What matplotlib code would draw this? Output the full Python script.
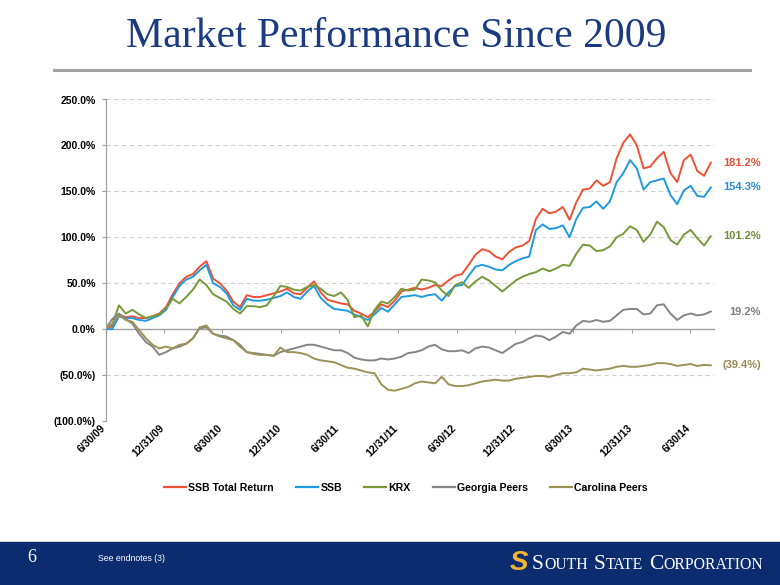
import matplotlib
matplotlib.use("Agg")
import matplotlib.pyplot as plt
import matplotlib.transforms as mtransforms
from matplotlib.lines import Line2D
from matplotlib.patches import Rectangle
import pandas as pd

# ---------------- data ----------------
dates = pd.date_range("2009-06-30", periods=91, freq="21D")

ssb_total_return = [0, 3, 16, 13, 14, 12, 12, 14, 17, 24, 38, 50, 57, 60, 68, 74, 55, 50, 42, 30,
                    24, 37, 35, 35, 37, 39, 41, 44, 39, 38, 45, 52, 40, 32, 30, 28, 27, 20, 17, 13,
                    19, 27, 24, 31, 41, 43, 45, 43, 45, 48, 47, 53, 58, 60, 70, 81, 87, 85, 79, 76,
                    84, 89, 91, 96, 120, 131, 126, 128, 133, 119, 138, 152, 153, 162, 156, 160, 186, 203, 212, 200,
                    175, 177, 186, 193, 170, 160, 184, 190, 172, 167, 181.2]
ssb = [0, 0, 14, 12, 12, 10, 9, 12, 15, 21, 35, 47, 54, 57, 64, 70, 50, 46, 39, 26,
       21, 33, 31, 31, 32, 34, 36, 40, 35, 33, 41, 47, 34, 27, 22, 21, 20, 16, 13, 10,
       16, 23, 19, 27, 35, 36, 37, 35, 37, 38, 31, 40, 47, 48, 58, 68, 70, 68, 65, 64,
       70, 74, 77, 79, 108, 114, 109, 110, 113, 100, 120, 132, 133, 139, 131, 139, 160, 170, 184, 175,
       152, 160, 162, 164, 146, 136, 151, 156, 145, 144, 154.3]
krx = [0, 5, 26, 17, 21, 16, 12, 14, 16, 23, 33, 28, 35, 43, 54, 48, 38, 34, 30, 22,
       17, 25, 25, 24, 26, 36, 47, 46, 43, 42, 46, 48, 44, 38, 36, 40, 32, 13, 15, 3,
       21, 30, 28, 35, 44, 42, 43, 54, 53, 51, 42, 36, 48, 51, 45, 52, 57, 53, 47, 41,
       47, 53, 57, 60, 62, 66, 63, 66, 70, 69, 82, 92, 91, 85, 86, 90, 100, 104, 112, 108,
       95, 103, 117, 111, 97, 92, 103, 108, 99, 91, 101.2]
georgia_peers = [0, 11, 17, 11, 6, -5, -14, -19, -28, -25, -21, -19, -16, -10, 1, 2, -5, -7, -8, -12,
                 -17, -25, -26, -27, -28, -29, -25, -23, -21, -19, -17, -17, -19, -21, -23, -23, -26, -31, -33, -34,
                 -34, -32, -33, -32, -30, -26, -25, -23, -19, -17, -22, -24, -24, -23, -26, -21, -19, -20, -23, -26,
                 -21, -16, -14, -10, -7, -8, -12, -8, -3, -5, 4, 9, 8, 10, 8, 9, 15, 21, 22, 22,
                 16, 17, 26, 27, 17, 10, 15, 17, 15, 16, 19.2]
carolina_peers = [0, 6, 15, 10, 8, -1, -10, -17, -21, -19, -21, -17, -16, -10, 2, 4, -5, -8, -10, -12,
                  -19, -25, -27, -28, -28, -29, -20, -25, -25, -26, -28, -32, -34, -35, -36, -39, -42, -43, -45, -47,
                  -48, -60, -66, -67, -65, -63, -59, -57, -58, -59, -52, -60, -62, -62, -61, -59, -57, -56, -55, -56,
                  -56, -54, -53, -52, -51, -51, -52, -50, -48, -48, -47, -43, -44, -45, -44, -43, -41, -40, -41, -41,
                  -40, -39, -37, -37, -38, -40, -39, -38, -40, -39, -39.4]

series_names = ["SSB Total Return", "SSB", "KRX", "Georgia Peers", "Carolina Peers"]
series_values = [ssb_total_return, ssb, krx, georgia_peers, carolina_peers]
end_labels = ["181.2%", "154.3%", "101.2%", "19.2%", "(39.4%)"]

x_tick_dates = ["2009-06-30", "2009-12-31", "2010-06-30", "2010-12-31", "2011-06-30", "2011-12-31",
                "2012-06-30", "2012-12-31", "2013-06-30", "2013-12-31", "2014-06-30"]
x_tick_labels = ["6/30/09", "12/31/09", "6/30/10", "12/31/10", "6/30/11", "12/31/11",
                 "6/30/12", "12/31/12", "6/30/13", "12/31/13", "6/30/14"]
y_ticks = [-100, -50, 0, 50, 100, 150, 200, 250]
y_tick_labels = ["(100.0%)", "(50.0%)", "0.0%", "50.0%", "100.0%", "150.0%", "200.0%", "250.0%"]

# ---------------- style ----------------
line_colors = ["#EF5134", "#1E9BE0", "#78983A", "#858585", "#9A9257"]
label_colors = ["#E9513A", "#2A8FD6", "#6F8E3B", "#7F7F7F", "#948A54"]
navy = "#0B2D6F"
title_color = "#1A3A82"
sans = ["Liberation Sans", "DejaVu Sans"]
serif = ["Liberation Serif", "DejaVu Serif"]

W, H = 780, 585
fig = plt.figure(figsize=(W / 100, H / 100), dpi=100)
fig.patch.set_facecolor("white")

left, right, top, bottom = 105.5, 714, 99.5, 421
ax = fig.add_axes([left / W, 1 - bottom / H, (right - left) / W, (bottom - top) / H])
ax.set_facecolor("white")

for name, vals, col in zip(series_names, series_values, line_colors):
    ax.plot(dates, vals, color=col, lw=1.4, label=name, solid_joinstyle="round")

ax.set_xlim(pd.Timestamp("2009-06-30"), pd.Timestamp("2014-09-12"))
ax.set_ylim(-100, 250)

# grid lines (dashed) except zero
for yv in y_ticks:
    if yv != 0:
        ax.axhline(yv, color="#D0D0D0", lw=0.8, ls=(0, (4, 3)), zorder=0)

ax.set_yticks(y_ticks)
ax.set_yticklabels(y_tick_labels, fontsize=7.5, fontweight="bold", family=sans)
ax.tick_params(axis="y", direction="out", length=3, color="#A0A0A0", width=0.8, pad=4)

for s in ["top", "right"]:
    ax.spines[s].set_visible(False)
ax.spines["left"].set_color("#A0A0A0")
ax.spines["left"].set_linewidth(0.9)
ax.spines["bottom"].set_position(("data", 0))
ax.spines["bottom"].set_color("#A0A0A0")
ax.spines["bottom"].set_linewidth(1.0)
ax.spines["bottom"].set_zorder(1)

tick_pos = [pd.Timestamp(d) for d in x_tick_dates]
ax.set_xticks(tick_pos)
ax.tick_params(axis="x", direction="out", length=3, color="#A0A0A0", width=0.8, labelbottom=False)

trans = mtransforms.blended_transform_factory(ax.transData, ax.transAxes)
trans_off = mtransforms.offset_copy(trans, fig=fig, x=2, y=-2, units="dots")
for d, lab in zip(tick_pos, x_tick_labels):
    ax.text(d, 0, lab, transform=trans_off, rotation=45, ha="right", va="top",
            fontsize=7.5, fontweight="bold", family=sans, color="black")

# end labels
trans_lbl = mtransforms.blended_transform_factory(fig.transFigure, ax.transData)
for vals, lab, col in zip(series_values, end_labels, label_colors):
    ax.text(761 / W, vals[-1], lab, transform=trans_lbl, ha="right", va="center",
            fontsize=8, fontweight="bold", family=sans, color=col)

# legend
leg = fig.legend(loc="center", bbox_to_anchor=(406 / W, 1 - 488 / H), ncol=5, frameon=False,
                 handlelength=2.1, handletextpad=0.2, columnspacing=2.1,
                 prop={"family": sans, "weight": "bold", "size": 7.6})
for lh in leg.get_lines():
    lh.set_linewidth(1.6)

# title and rule
fig.text(396 / W, 1 - 47 / H, "Market Performance Since 2009", ha="center", va="baseline",
         fontsize=30, family=serif, color=title_color)
fig.add_artist(Line2D([54 / W, 750 / W], [1 - 70 / H, 1 - 70 / H], color="#A3A3A3", lw=2.2))

# footer
fig.add_artist(Rectangle((0, 0), 1, (H - 542) / H, transform=fig.transFigure, color=navy, zorder=0))
fig.text(27 / W, 1 - 562.5 / H, "6", ha="left", va="baseline", fontsize=13, family=serif, color="white")
fig.text(98 / W, 1 - 561 / H, "See endnotes (3)", ha="left", va="baseline", fontsize=6.3,
         family=sans, color="white")
fig.text(519 / W, 1 - 562.5 / H, "S", ha="center", va="center", fontsize=20, fontweight="bold",
         style="italic", family=sans, color="#F2B630")

renderer = fig.canvas.get_renderer()
pieces = [("S", 15.5), ("OUTH", 11.3), (" ", 0), ("S", 15.5), ("TATE", 11.3), (" ", 0), ("C", 15.5), ("ORPORATION", 11.3)]
xpos = 532.0
for txt, size in pieces:
    if txt == " ":
        xpos += 5
        continue
    t = fig.text(xpos / W, 1 - 569 / H, txt, ha="left", va="baseline", fontsize=size,
                 family=serif, color="white")
    bb = t.get_window_extent(renderer)
    xpos = bb.x1 + 0.5

fig.savefig("out.png", dpi=100)
